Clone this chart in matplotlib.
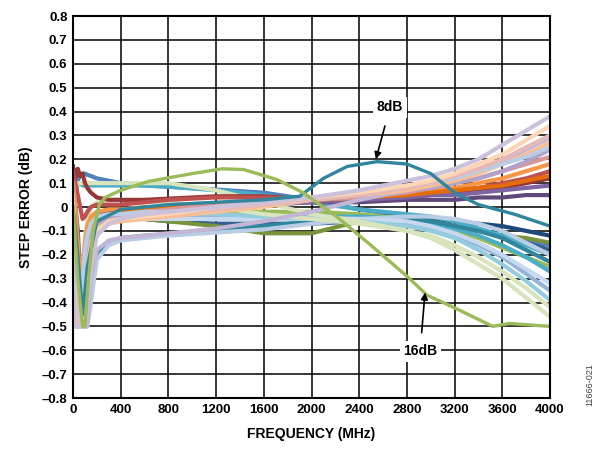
import numpy as np
import matplotlib
matplotlib.use('Agg')
import matplotlib.pyplot as plt

plt.rcParams['font.family'] = ['Liberation Sans', 'DejaVu Sans']

# shared frequency grid (MHz) for the bulk of the traces
freq = np.array([0, 20, 40, 60, 80, 100, 120, 150, 200, 300, 400, 600, 800, 1200, 1600,
                 2000, 2400, 2800, 3000, 3200, 3400, 3600, 3800, 4000])

# attenuation steps that bend upward at high frequency
upper_colors = ['#953735', '#c0504d', '#5f497a', '#8064a2', '#f79646', '#e46c0a', '#d99694',
                '#b3a2c7', '#c3b5d6', '#fac090', '#b9cde5', '#e6b9b8', '#fcd5b5', '#ccc1da']
upper_steps = [
    [0.17, 0.12, 0.16, 0.13, 0.14, 0.10, 0.08, 0.06, 0.04, 0.03, 0.03, 0.03, 0.035, 0.045, 0.045, 0.03, 0.03, 0.04, 0.05, 0.06, 0.07, 0.08, 0.10, 0.12],
    [0.15, 0.10, 0.05, 0.00, -0.05, -0.04, -0.02, 0.00, 0.01, 0.01, 0.01, 0.02, 0.03, 0.04, 0.04, 0.03, 0.04, 0.05, 0.06, 0.07, 0.08, 0.10, 0.12, 0.15],
    [0.05, 0.00, -0.10, -0.30, -0.35, -0.25, -0.15, -0.08, -0.04, -0.02, -0.01, -0.01, 0.00, 0.00, 0.01, 0.02, 0.02, 0.03, 0.03, 0.03, 0.04, 0.04, 0.05, 0.05],
    [0.10, -0.10, -0.30, -0.45, -0.40, -0.25, -0.15, -0.08, -0.04, -0.03, -0.02, -0.02, -0.01, 0.00, 0.01, 0.02, 0.03, 0.04, 0.05, 0.05, 0.06, 0.07, 0.08, 0.09],
    [0.10, 0.00, -0.15, -0.30, -0.25, -0.15, -0.08, -0.04, -0.02, -0.01, -0.01, 0.00, 0.00, 0.00, 0.02, 0.03, 0.04, 0.06, 0.07, 0.08, 0.10, 0.12, 0.15, 0.18],
    [0.05, -0.10, -0.30, -0.50, -0.40, -0.25, -0.14, -0.08, -0.05, -0.03, -0.02, -0.01, 0.00, 0.01, 0.02, 0.03, 0.04, 0.05, 0.06, 0.07, 0.08, 0.09, 0.11, 0.13],
    [0.10, -0.20, -0.45, -0.50, -0.40, -0.30, -0.20, -0.12, -0.06, -0.04, -0.03, -0.02, -0.01, 0.01, 0.02, 0.03, 0.04, 0.06, 0.08, 0.10, 0.12, 0.15, 0.18, 0.21],
    [0.00, -0.30, -0.50, -0.50, -0.40, -0.28, -0.20, -0.12, -0.07, -0.05, -0.04, -0.03, -0.02, -0.01, 0.01, 0.03, 0.05, 0.07, 0.08, 0.10, 0.12, 0.15, 0.19, 0.24],
    [-0.10, -0.50, -0.50, -0.50, -0.50, -0.50, -0.50, -0.30, -0.18, -0.14, -0.13, -0.12, -0.11, -0.09, -0.06, -0.02, 0.03, 0.07, 0.09, 0.12, 0.15, 0.19, 0.24, 0.29],
    [0.05, -0.20, -0.50, -0.50, -0.50, -0.40, -0.30, -0.18, -0.10, -0.07, -0.06, -0.05, -0.04, -0.02, 0.00, 0.03, 0.05, 0.07, 0.09, 0.11, 0.14, 0.18, 0.22, 0.27],
    [-0.10, -0.50, -0.50, -0.45, -0.30, -0.18, -0.12, -0.07, -0.04, -0.03, -0.03, -0.02, -0.02, -0.01, 0.01, 0.03, 0.06, 0.09, 0.10, 0.12, 0.15, 0.18, 0.21, 0.25],
    [-0.05, -0.40, -0.50, -0.50, -0.45, -0.35, -0.25, -0.15, -0.09, -0.06, -0.05, -0.04, -0.03, -0.01, 0.01, 0.03, 0.05, 0.08, 0.10, 0.13, 0.16, 0.20, 0.25, 0.30],
    [0.00, -0.50, -0.50, -0.50, -0.50, -0.45, -0.35, -0.20, -0.10, -0.06, -0.05, -0.04, -0.03, 0.00, 0.02, 0.04, 0.06, 0.09, 0.11, 0.14, 0.18, 0.22, 0.28, 0.34],
    [-0.10, -0.50, -0.50, -0.50, -0.50, -0.50, -0.40, -0.25, -0.12, -0.07, -0.05, -0.03, -0.02, 0.00, 0.02, 0.04, 0.07, 0.11, 0.13, 0.16, 0.20, 0.26, 0.32, 0.38],
]

# attenuation steps that roll off downward at high frequency
lower_colors = ['#4f81bd', '#1f497d', '#366092', '#77933c', '#9bbb59', '#4bacc6', '#4bacc6',
                '#31859c', '#b9cde5', '#95b3d7', '#c6d9f1', '#93cddd', '#d7e4bd', '#d7e4bd']
lower_steps = [
    [0.00, 0.05, 0.11, 0.135, 0.14, 0.14, 0.135, 0.13, 0.12, 0.11, 0.10, 0.09, 0.085, 0.073, 0.06, 0.03, -0.01, -0.04, -0.06, -0.08, -0.10, -0.12, -0.14, -0.16],
    [0.05, -0.05, -0.20, -0.35, -0.30, -0.18, -0.10, -0.05, -0.03, -0.02, -0.02, -0.03, -0.04, -0.05, -0.05, -0.05, -0.04, -0.04, -0.05, -0.06, -0.07, -0.08, -0.10, -0.12],
    [0.00, -0.10, -0.30, -0.45, -0.40, -0.25, -0.15, -0.08, -0.05, -0.04, -0.04, -0.05, -0.06, -0.07, -0.07, -0.07, -0.06, -0.06, -0.07, -0.08, -0.10, -0.12, -0.15, -0.18],
    [0.05, -0.05, -0.20, -0.35, -0.30, -0.18, -0.10, -0.06, -0.04, -0.04, -0.04, -0.05, -0.06, -0.08, -0.11, -0.11, -0.06, -0.05, -0.06, -0.08, -0.10, -0.12, -0.13, -0.15],
    [0.00, -0.20, -0.45, -0.50, -0.45, -0.30, -0.18, -0.08, -0.04, -0.02, -0.01, -0.02, -0.02, -0.02, -0.02, -0.02, -0.03, -0.05, -0.07, -0.10, -0.13, -0.17, -0.21, -0.25],
    [0.00, -0.20, -0.40, -0.50, -0.45, -0.30, -0.20, -0.10, -0.06, -0.05, -0.04, -0.04, -0.05, -0.05, -0.05, -0.04, -0.04, -0.05, -0.07, -0.09, -0.12, -0.16, -0.21, -0.27],
    [0.00, 0.05, 0.10, 0.10, 0.09, 0.09, 0.09, 0.09, 0.09, 0.09, 0.09, 0.09, 0.085, 0.07, 0.05, 0.02, -0.01, -0.03, -0.04, -0.06, -0.09, -0.12, -0.16, -0.20],
    [-0.20, -0.50, -0.50, -0.50, -0.50, -0.50, -0.45, -0.30, -0.19, -0.15, -0.13, -0.12, -0.115, -0.10, -0.08, -0.06, -0.05, -0.05, -0.06, -0.08, -0.10, -0.13, -0.18, -0.23],
    [-0.20, -0.50, -0.50, -0.50, -0.50, -0.50, -0.50, -0.40, -0.22, -0.16, -0.14, -0.13, -0.12, -0.107, -0.094, -0.07, -0.05, -0.04, -0.04, -0.05, -0.07, -0.10, -0.15, -0.20],
    [-0.10, -0.45, -0.50, -0.50, -0.45, -0.35, -0.25, -0.15, -0.09, -0.06, -0.05, -0.04, -0.04, -0.04, -0.04, -0.04, -0.05, -0.07, -0.09, -0.12, -0.16, -0.21, -0.28, -0.35],
    [-0.15, -0.50, -0.50, -0.50, -0.40, -0.30, -0.20, -0.12, -0.07, -0.05, -0.05, -0.05, -0.05, -0.05, -0.05, -0.05, -0.05, -0.06, -0.08, -0.11, -0.15, -0.20, -0.26, -0.32],
    [-0.20, -0.50, -0.50, -0.45, -0.35, -0.22, -0.14, -0.08, -0.05, -0.03, -0.02, -0.02, -0.02, -0.03, -0.04, -0.05, -0.06, -0.08, -0.10, -0.13, -0.18, -0.24, -0.31, -0.39],
    [-0.10, -0.50, -0.50, -0.40, -0.25, -0.12, -0.05, 0.00, 0.02, 0.03, 0.03, 0.02, 0.02, 0.00, -0.03, -0.05, -0.07, -0.10, -0.12, -0.16, -0.21, -0.27, -0.34, -0.42],
    [0.05, 0.08, 0.10, 0.10, 0.10, 0.10, 0.10, 0.10, 0.10, 0.10, 0.10, 0.10, 0.10, 0.07, 0.02, -0.03, -0.06, -0.10, -0.13, -0.18, -0.24, -0.30, -0.38, -0.46],
]

# the two labelled steps
freq_8db = [0, 40, 80, 120, 200, 400, 800, 1200, 1600, 1900, 2100, 2300, 2550, 2800, 3000, 3200, 3400, 3700, 4000]
err_8db = [0.0, -0.2, -0.45, -0.25, -0.06, -0.01, 0.01, 0.02, 0.03, 0.045, 0.12, 0.17, 0.19, 0.18, 0.14, 0.06, 0.01, -0.03, -0.08]
freq_16db = [0, 40, 80, 100, 130, 170, 220, 270, 400, 630, 1000, 1250, 1430, 1710, 1930, 2210,
             2490, 2800, 2970, 3190, 3520, 3660, 4000]
err_16db = [0.0, -0.3, -0.5, -0.5, -0.3, -0.1, 0.01, 0.04, 0.07, 0.107, 0.14, 0.16, 0.157, 0.115,
            0.06, -0.04, -0.157, -0.29, -0.37, -0.42, -0.50, -0.488, -0.50]

fig = plt.figure(figsize=(6.0, 4.51), dpi=100)
ax = fig.add_axes([0.1217, 0.1175, 0.795, 0.847])

for vals, c in zip(lower_steps, lower_colors):
    ax.plot(freq, vals, color=c, lw=3.0, solid_joinstyle='round', zorder=3)
for vals, c in zip(upper_steps, upper_colors):
    ax.plot(freq, vals, color=c, lw=3.0, solid_joinstyle='round', zorder=3)
ax.plot(freq_8db, err_8db, color='#31859c', lw=2.4, zorder=4)
ax.plot(freq_16db, err_16db, color='#9bbb59', lw=2.4, zorder=4)

ax.set_xlim(0, 4000)
ax.set_ylim(-0.8, 0.8)
xt = np.arange(0, 4001, 400)
yt = np.round(np.arange(-0.8, 0.81, 0.1), 1)
ax.set_xticks(xt)
ax.set_yticks(yt)
ax.set_xticklabels([str(v) for v in xt])
ax.set_yticklabels(['0' if v == 0 else ('%.1f' % v).replace('-', '\u2013') for v in yt])
ax.tick_params(length=0, pad=4, labelsize=9.5)
for lab in ax.get_xticklabels() + ax.get_yticklabels():
    lab.set_fontweight('bold')
ax.grid(True, color='black', lw=1.1, zorder=1)
ax.set_axisbelow(True)
for s in ax.spines.values():
    s.set_linewidth(1.5)
    s.set_zorder(5)

ax.set_xlabel('FREQUENCY (MHz)', fontsize=10, fontweight='bold', labelpad=8)
ax.set_ylabel('STEP ERROR (dB)', fontsize=10, fontweight='bold', labelpad=6)

ax.annotate('8dB', xy=(2540, 0.2), xytext=(2658, 0.417), fontsize=10, fontweight='bold',
            ha='center', va='center', zorder=6,
            bbox=dict(boxstyle='square,pad=0.25', fc='white', ec='none'),
            arrowprops=dict(arrowstyle='-|>', color='black', lw=1.2, shrinkA=6, shrinkB=0))
ax.annotate('16dB', xy=(2952, -0.358), xytext=(2910, -0.605), fontsize=10, fontweight='bold',
            ha='center', va='center', zorder=6,
            bbox=dict(boxstyle='square,pad=0.25', fc='white', ec='none'),
            arrowprops=dict(arrowstyle='-|>', color='black', lw=1.2, shrinkA=6, shrinkB=0))

fig.text(0.983, 0.1, '11666-021', rotation=90, fontsize=6.5, color='#444444',
         ha='center', va='bottom')

fig.savefig('out.png', dpi=100)
